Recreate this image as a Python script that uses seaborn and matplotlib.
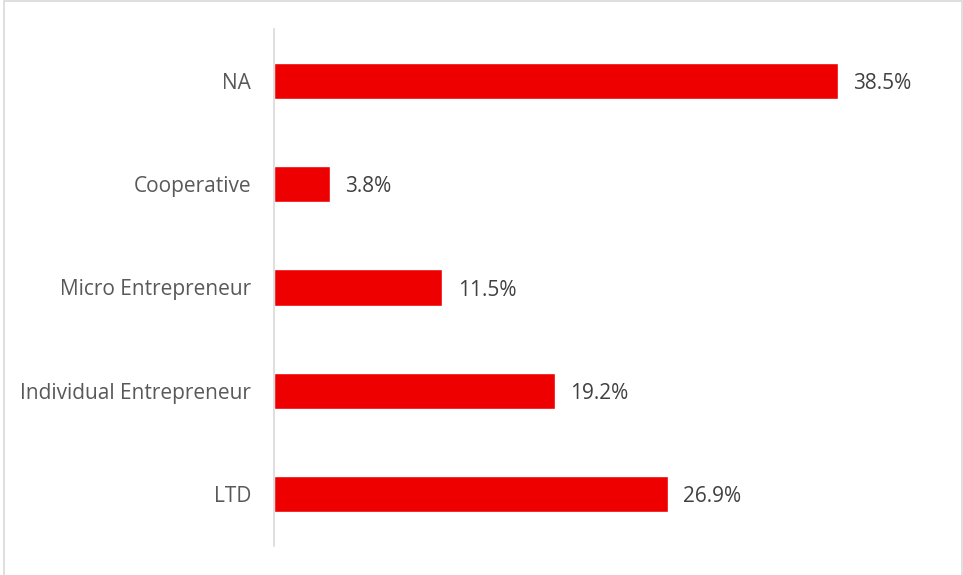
import matplotlib
matplotlib.use("Agg")
import matplotlib.pyplot as plt
from matplotlib.patches import Rectangle
import seaborn as sns
import pandas as pd

categories = ["NA", "Cooperative", "Micro Entrepreneur", "Individual Entrepreneur", "LTD"]
shares = [38.5, 3.8, 11.5, 19.2, 26.9]

df = pd.DataFrame({"category": categories, "share": shares})

sns.set_theme(style="white")
plt.rcParams["font.family"] = ["Open Sans", "DejaVu Sans"]

fig = plt.figure(figsize=(9.63, 5.75), dpi=100)
ax = fig.add_axes([274 / 963, 29 / 575, (933 - 274) / 963, (546 - 29) / 575])

sns.barplot(data=df, y="category", x="share", order=categories, orient="h",
            color="#EE0000", saturation=1, width=0.35, ax=ax)

ax.set_xlim(0, 45)
ax.set_ylim(4.5, -0.5)
ax.set_xlabel("")
ax.set_ylabel("")
ax.set_xticks([])
ax.tick_params(axis="y", length=0, pad=16.5, labelsize=15, labelcolor="#595959")

for side in ["top", "right", "bottom"]:
    ax.spines[side].set_visible(False)
ax.spines["left"].set_color("#D9D9D9")
ax.spines["left"].set_linewidth(1.2)

for i, v in enumerate(shares):
    ax.text(v + 1.05, i, f"{v:.1f}%", va="center_baseline", ha="left",
            fontsize=15, color="#404040")

# light frame around the whole figure
fig.add_artist(Rectangle((3.5 / 963, -0.05), 958 / 963, 1.05 - 1.5 / 575,
                         transform=fig.transFigure, fill=False,
                         edgecolor="#D9D9D9", linewidth=1.2))

fig.savefig("out.png", dpi=100)
